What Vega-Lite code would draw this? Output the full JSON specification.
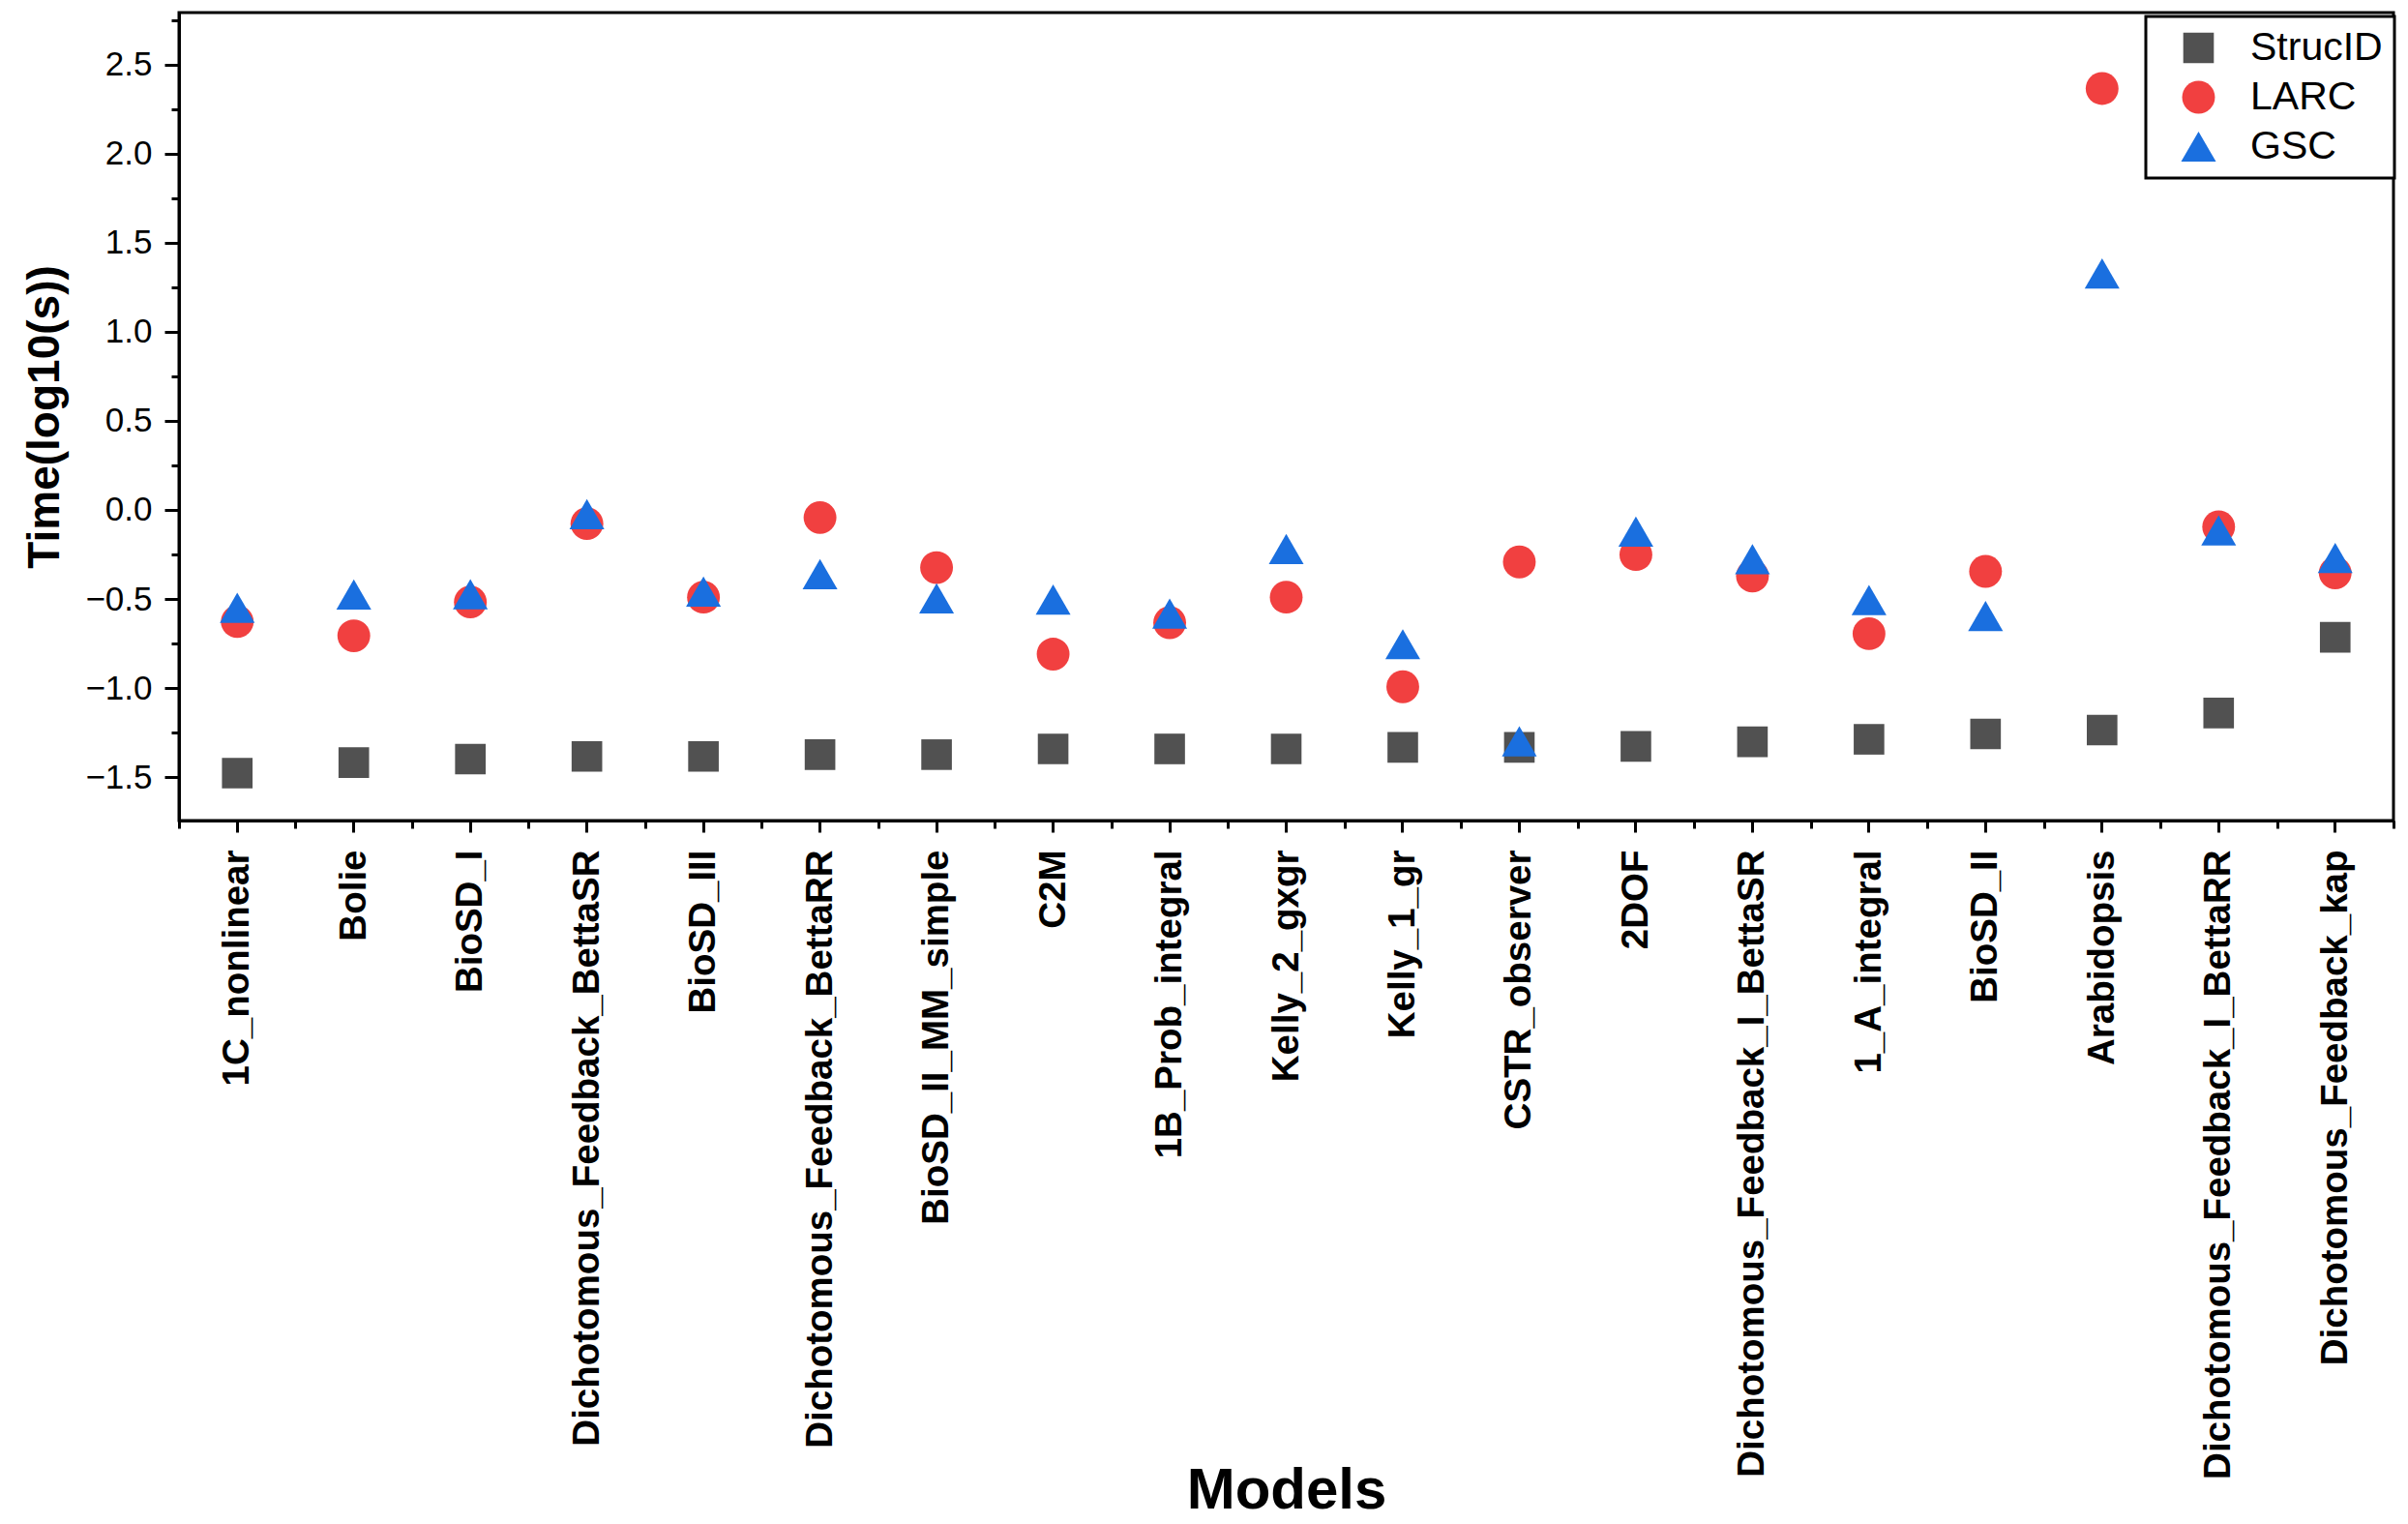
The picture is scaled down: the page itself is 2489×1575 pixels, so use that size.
{
  "$schema": "https://vega.github.io/schema/vega-lite/v6.json",
  "width": 2289,
  "height": 835,
  "autosize": {"type": "none"},
  "padding": {"left": 185, "top": 13, "right": 15, "bottom": 727},
  "background": "white",
  "config": {
    "font": "Liberation Sans",
    "view": {"stroke": "black", "strokeWidth": 3},
    "axis": {"grid": false, "domainColor": "black", "domainWidth": 3, "tickColor": "black", "tickWidth": 3, "labelColor": "black", "titleColor": "black", "labelFont": "Liberation Sans", "titleFont": "Liberation Sans"}
  },
  "data": {
    "values": [
      {"model": "1C_nonlinear", "series": "StrucID", "time": -1.478},
      {"model": "Bolie", "series": "StrucID", "time": -1.419},
      {"model": "BioSD_I", "series": "StrucID", "time": -1.399},
      {"model": "Dichotomous_Feedback_BettaSR", "series": "StrucID", "time": -1.384},
      {"model": "BioSD_III", "series": "StrucID", "time": -1.384},
      {"model": "Dichotomous_Feedback_BettaRR", "series": "StrucID", "time": -1.374},
      {"model": "BioSD_II_MM_simple", "series": "StrucID", "time": -1.374},
      {"model": "C2M", "series": "StrucID", "time": -1.342},
      {"model": "1B_Prob_integral", "series": "StrucID", "time": -1.342},
      {"model": "Kelly_2_gxgr", "series": "StrucID", "time": -1.342},
      {"model": "Kelly_1_gr", "series": "StrucID", "time": -1.333},
      {"model": "CSTR_observer", "series": "StrucID", "time": -1.333},
      {"model": "2DOF", "series": "StrucID", "time": -1.328},
      {"model": "Dichotomous_Feedback_I_BettaSR", "series": "StrucID", "time": -1.302},
      {"model": "1_A_integral", "series": "StrucID", "time": -1.288},
      {"model": "BioSD_II", "series": "StrucID", "time": -1.258},
      {"model": "Arabidopsis", "series": "StrucID", "time": -1.236},
      {"model": "Dichotomous_Feedback_I_BettaRR", "series": "StrucID", "time": -1.140},
      {"model": "Dichotomous_Feedback_kap", "series": "StrucID", "time": -0.715},
      {"model": "1C_nonlinear", "series": "LARC", "time": -0.627},
      {"model": "Bolie", "series": "LARC", "time": -0.707},
      {"model": "BioSD_I", "series": "LARC", "time": -0.517},
      {"model": "Dichotomous_Feedback_BettaSR", "series": "LARC", "time": -0.077},
      {"model": "BioSD_III", "series": "LARC", "time": -0.490},
      {"model": "Dichotomous_Feedback_BettaRR", "series": "LARC", "time": -0.043},
      {"model": "BioSD_II_MM_simple", "series": "LARC", "time": -0.324},
      {"model": "C2M", "series": "LARC", "time": -0.810},
      {"model": "1B_Prob_integral", "series": "LARC", "time": -0.633},
      {"model": "Kelly_2_gxgr", "series": "LARC", "time": -0.490},
      {"model": "Kelly_1_gr", "series": "LARC", "time": -0.993},
      {"model": "CSTR_observer", "series": "LARC", "time": -0.292},
      {"model": "2DOF", "series": "LARC", "time": -0.251},
      {"model": "Dichotomous_Feedback_I_BettaSR", "series": "LARC", "time": -0.371},
      {"model": "1_A_integral", "series": "LARC", "time": -0.695},
      {"model": "BioSD_II", "series": "LARC", "time": -0.345},
      {"model": "Arabidopsis", "series": "LARC", "time": 2.366},
      {"model": "Dichotomous_Feedback_I_BettaRR", "series": "LARC", "time": -0.095},
      {"model": "Dichotomous_Feedback_kap", "series": "LARC", "time": -0.354},
      {"model": "1C_nonlinear", "series": "GSC", "time": -0.549},
      {"model": "Bolie", "series": "GSC", "time": -0.475},
      {"model": "BioSD_I", "series": "GSC", "time": -0.473},
      {"model": "Dichotomous_Feedback_BettaSR", "series": "GSC", "time": -0.024},
      {"model": "BioSD_III", "series": "GSC", "time": -0.458},
      {"model": "Dichotomous_Feedback_BettaRR", "series": "GSC", "time": -0.361},
      {"model": "BioSD_II_MM_simple", "series": "GSC", "time": -0.497},
      {"model": "C2M", "series": "GSC", "time": -0.503},
      {"model": "1B_Prob_integral", "series": "GSC", "time": -0.582},
      {"model": "Kelly_2_gxgr", "series": "GSC", "time": -0.220},
      {"model": "Kelly_1_gr", "series": "GSC", "time": -0.754},
      {"model": "CSTR_observer", "series": "GSC", "time": -1.299},
      {"model": "2DOF", "series": "GSC", "time": -0.122},
      {"model": "Dichotomous_Feedback_I_BettaSR", "series": "GSC", "time": -0.276},
      {"model": "1_A_integral", "series": "GSC", "time": -0.506},
      {"model": "BioSD_II", "series": "GSC", "time": -0.596},
      {"model": "Arabidopsis", "series": "GSC", "time": 1.327},
      {"model": "Dichotomous_Feedback_I_BettaRR", "series": "GSC", "time": -0.115},
      {"model": "Dichotomous_Feedback_kap", "series": "GSC", "time": -0.270}
    ]
  },
  "layer": [
    {
      "mark": {"type": "point", "filled": true, "opacity": 1, "strokeWidth": 0},
      "encoding": {
        "x": {
          "field": "model", "type": "nominal", "sort": null,
          "scale": {"type": "band", "paddingInner": 0, "paddingOuter": 0,
            "domain": ["1C_nonlinear", "Bolie", "BioSD_I", "Dichotomous_Feedback_BettaSR", "BioSD_III", "Dichotomous_Feedback_BettaRR", "BioSD_II_MM_simple", "C2M", "1B_Prob_integral", "Kelly_2_gxgr", "Kelly_1_gr", "CSTR_observer", "2DOF", "Dichotomous_Feedback_I_BettaSR", "1_A_integral", "BioSD_II", "Arabidopsis", "Dichotomous_Feedback_I_BettaRR", "Dichotomous_Feedback_kap"]},
          "axis": {
            "orient": "bottom", "title": "Models", "titleFontSize": 60, "titleFontWeight": "bold",
            "titleBaseline": "alphabetic", "titleY": 710,
            "labelAngle": -90, "labelFontSize": 38.5, "labelFontWeight": "bold",
            "labelPadding": 18, "tickSize": 12, "labelOverlap": false, "labelLimit": 0
          }
        },
        "y": {
          "field": "time", "type": "quantitative",
          "scale": {"domain": [-1.744, 2.792], "nice": false, "zero": false},
          "axis": {
            "orient": "left", "title": "Time(log10(s))", "titleFontSize": 46, "titleFontWeight": "bold",
            "titleBaseline": "alphabetic", "titleX": -125,
            "values": [-1.5, -1, -0.5, 0, 0.5, 1, 1.5, 2, 2.5], "format": ".1f",
            "labelFontSize": 35, "labelFontWeight": "normal", "tickSize": 15, "labelPadding": 13
          }
        },
        "color": {
          "field": "series", "type": "nominal",
          "scale": {"domain": ["StrucID", "LARC", "GSC"], "range": ["#515151", "#F14040", "#1A6FDF"]},
          "legend": {
            "title": null, "orient": "none", "legendX": 2033, "legendY": 4,
            "strokeColor": "black", "fillColor": "white",
            "padding": 12, "symbolOffset": 22, "labelOffset": 33, "rowPadding": 9,
            "labelFontSize": 41, "labelFont": "Liberation Sans", "labelColor": "black",
            "symbolStrokeWidth": 0, "symbolOpacity": 1,
            "encode": {"legend": {"update": {"strokeWidth": {"value": 3}}}}
          }
        },
        "shape": {
          "field": "series", "type": "nominal",
          "scale": {"domain": ["StrucID", "LARC", "GSC"], "range": ["square", "circle", "triangle-up"]}
        },
        "size": {
          "field": "series", "type": "nominal",
          "scale": {"domain": ["StrucID", "LARC", "GSC"], "range": [1000, 1300, 1750]}
        }
      }
    },
    {
      "mark": {"type": "point", "opacity": 0},
      "encoding": {
        "x": {
          "field": "model", "type": "nominal", "sort": null,
          "axis": {"orient": "bottom", "title": null, "labels": false, "domain": false, "tickBand": "extent", "tickSize": 8}
        },
        "y": {
          "field": "time", "type": "quantitative",
          "axis": {"orient": "left", "title": null, "labels": false, "domain": false, "tickSize": 8,
            "values": [-1.25, -0.75, -0.25, 0.25, 0.75, 1.25, 1.75, 2.25, 2.75]}
        }
      }
    }
  ],
  "resolve": {"axis": {"x": "independent", "y": "independent"}}
}
